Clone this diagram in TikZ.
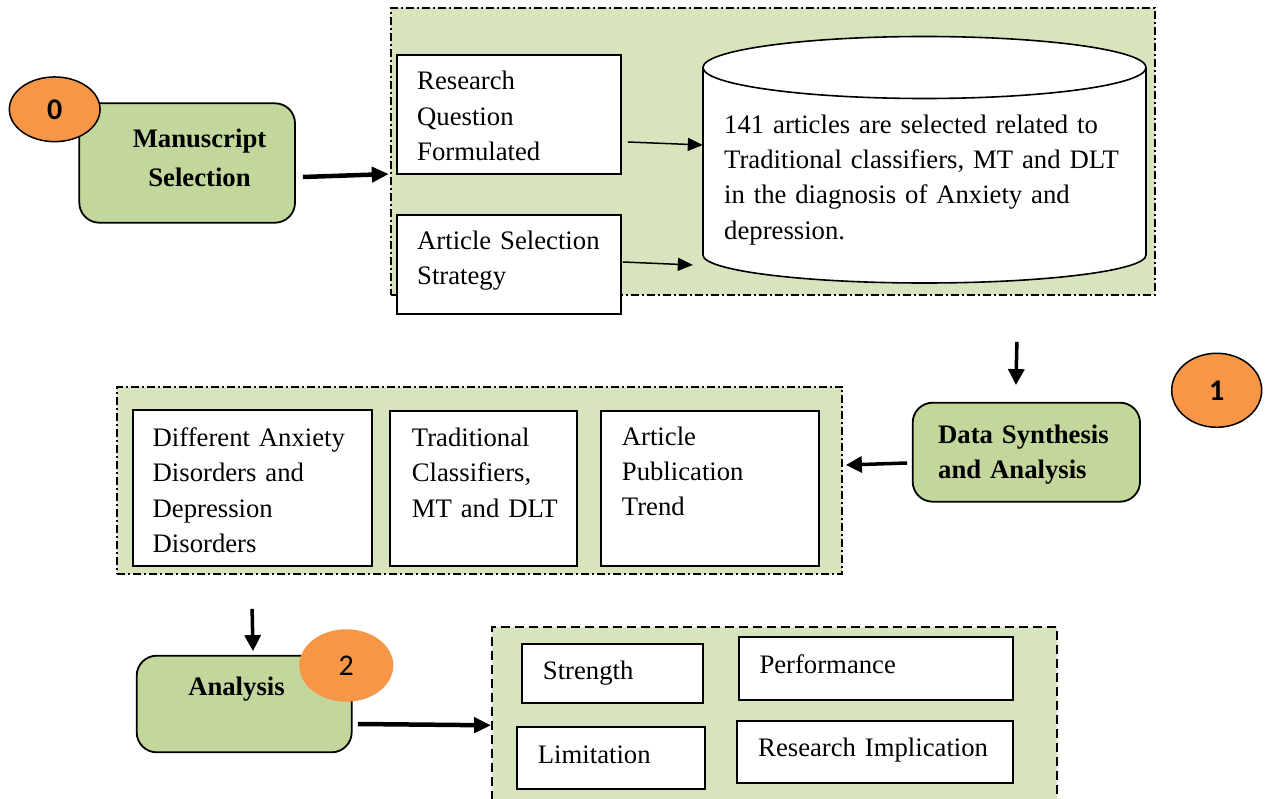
\documentclass[tikz,border=0pt]{standalone}
\usepackage{fontspec}
\setmainfont{Liberation Serif}
\newfontfamily\numfont{Carlito}
\usetikzlibrary{arrows.meta,shapes.geometric,calc}
\definecolor{panelfill}{HTML}{D7E4BD}
\definecolor{stepfill}{HTML}{C3D69B}
\definecolor{badgefill}{HTML}{F79646}
\begin{document}
\begin{tikzpicture}[x=1pt,y=-1pt,
  panel/.style={draw=black, line width=1.8pt, fill=panelfill, inner sep=0pt,
                dash pattern=on 8pt off 3pt on 2pt off 3pt},
  dpanel/.style={draw=black, line width=1.8pt, fill=panelfill, inner sep=0pt,
                dash pattern=on 9pt off 5pt},
  stepbox/.style={draw=black, line width=1.8pt, fill=stepfill, rounded corners=20pt, inner sep=0pt},
  wbox/.style={draw=black, line width=1.8pt, fill=white, inner sep=0pt},
  badge/.style={ellipse, fill=badgefill, inner sep=0pt, font=\numfont\fontsize{30}{32}\selectfont},
  txt/.style={inner sep=0pt, anchor=base west, text width=420pt, align=left,
              font=\fontsize{26.7}{35.2}\selectfont},
  ctxt/.style={inner sep=0pt, anchor=base, text width=300pt, align=center,
              font=\bfseries\fontsize{26.7}{39.4}\selectfont},
  thinarr/.style={line width=1.5pt, -{Triangle[length=15pt,width=13pt]}},
  bigarr/.style={line width=4.5pt, -{Triangle[length=17pt,width=15pt]}},
  downarr/.style={line width=3.5pt, -{Triangle[length=16pt,width=16pt]}}
]
\useasboundingbox (0,0) rectangle (1270,799);
\clip (0,0) rectangle (1270,799);

% containers
\node[panel, minimum width=764.3pt, minimum height=286.7pt] (top) at (772.85,151.65) {};
\node[panel, minimum width=725.3pt, minimum height=187pt] (mid) at (479.65,480.5) {};
\node[dpanel, minimum width=565pt, minimum height=190pt] (bot) at (774.2,721.7) {};

% step boxes
\node[stepbox, minimum width=215.7pt, minimum height=119.4pt] (ms) at (187.15,163) {};
\node[ctxt] (mst) at (199.5,147.3) {Manuscript\\Selection};
\node[stepbox, minimum width=227.3pt, minimum height=99pt] (ds) at (1026.35,452.2) {};
\node[txt, font=\bfseries\fontsize{26.7}{35}\selectfont] (dst) at (938,443.3) {Data Synthesis\\and Analysis};
\node[stepbox, minimum width=215pt, minimum height=96.6pt] (an) at (244.2,704) {};
\node[ctxt] (ant) at (236.5,695.7) {Analysis};

% top panel content
\node[wbox, minimum width=224pt, minimum height=119pt] (rq) at (509,114.5) {};
\node[txt] (rqt) at (417,90) {Research\\Question\\Formulated};
\node[wbox, minimum width=224pt, minimum height=99pt] (as) at (509,264.5) {};
\node[txt] (ast) at (417,249.3) {Article Selection\\Strategy};

\draw[line width=1.6pt, fill=white]
  (703,67.5) -- (703,255) arc[start angle=180, end angle=360, x radius=221.5pt, y radius=28pt]
  -- (1146,67.5) arc[start angle=0, end angle=180, x radius=221.5pt, y radius=31pt] -- cycle;
\draw[line width=1.6pt] (703,67.5) arc[start angle=180, end angle=360, x radius=221.5pt, y radius=31pt];
\node[inner sep=0pt, minimum width=443pt, minimum height=248pt] (cyl) at (924.5,161.5) {};
\node[txt] (cylt) at (724,133.5) {141 articles are selected related to\\Traditional classifiers, MT and DLT\\in the diagnosis of Anxiety and\\depression.};

% middle panel content
\node[wbox, minimum width=239pt, minimum height=156pt] (d1) at (252.5,488) {};
\node[txt] (d1t) at (152.5,446.7) {Different Anxiety\\Disorders and\\Depression\\Disorders};
\node[wbox, minimum width=187pt, minimum height=155pt] (d2) at (483.5,488.5) {};
\node[txt] (d2t) at (411.7,446.7) {Traditional\\Classifiers,\\MT and DLT};
\node[wbox, minimum width=218.6pt, minimum height=155pt] (d3) at (710,488.2) {};
\node[txt] (d3t) at (621.7,445.5) {Article\\Publication\\Trend};

% bottom panel content
\node[wbox, minimum width=181.6pt, minimum height=58.7pt] (s1) at (612.5,673.4) {};
\node[txt] (s1t) at (542.7,679.3) {Strength};
\node[wbox, minimum width=274pt, minimum height=62.7pt] (s2) at (876.3,668.6) {};
\node[txt] (s2t) at (759.3,673.3) {Performance};
\node[wbox, minimum width=188.3pt, minimum height=62pt] (s3) at (610.85,758.3) {};
\node[txt] (s3t) at (537.7,763.3) {Limitation};
\node[wbox, minimum width=275.7pt, minimum height=62pt] (s4) at (875.15,751.7) {};
\node[txt] (s4t) at (758,756) {Research Implication};

% connectors
\draw[bigarr] ([shift={(7,14)}]ms.east) -- ([shift={(-1,22.4)}]top.west);
\draw[thinarr] ([shift={(6,27.5)}]rq.east) -- ([shift={(0,-16.5)}]cyl.west);
\draw[thinarr] ([shift={(1,-2.5)}]as.east) -- ([shift={(-10,103.5)}]cyl.west);
\draw[downarr] ([shift={(-139,46)}]top.south east) -- ([shift={(-10.4,-16.7)}]ds.north);
\draw[downarr] ([shift={(-4.7,10.8)}]ds.west) -- ([shift={(2.7,-15.5)}]mid.east);
\draw[downarr] ([shift={(136,34)}]mid.south west) -- ([shift={(8.8,-3.7)}]an.north);
\draw[bigarr] ([shift={(5.3,20)}]an.east) -- ([shift={(0.3,3.6)}]bot.west);

% badges
\node[badge, draw=black, line width=1.5pt, minimum width=90.7pt, minimum height=64.7pt] (b0) at (54.7,109.3) {\bfseries 0};
\node[badge, draw=black, line width=1.5pt, minimum width=90pt, minimum height=74pt] (b1) at (1216.7,390.3) {\bfseries 1};
\node[badge, minimum width=94pt, minimum height=72.4pt] (b2) at (346.3,665.5) {2};
\end{tikzpicture}
\end{document}
